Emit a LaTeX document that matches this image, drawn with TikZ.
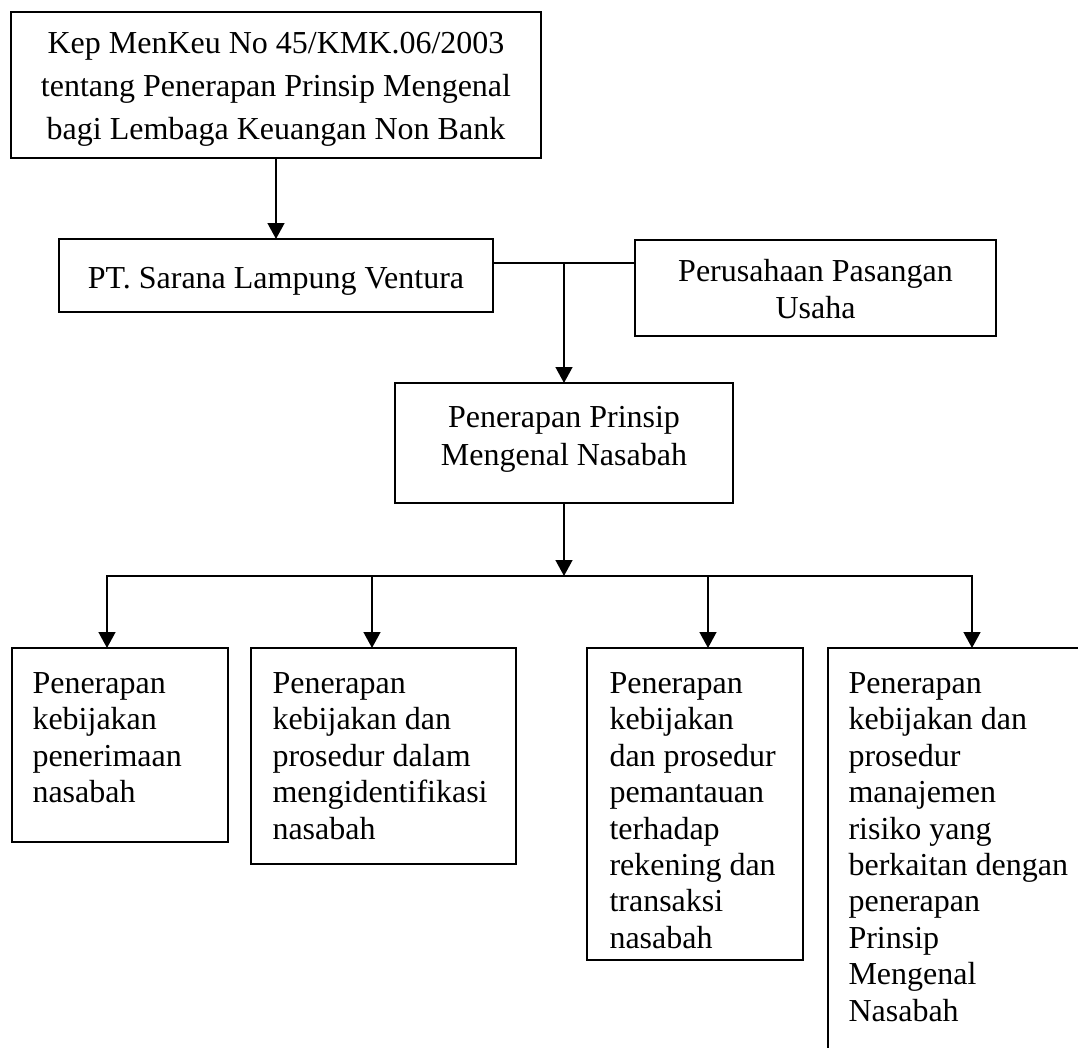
\documentclass[tikz,border=0pt]{standalone}
\usepackage{fontspec}
\setmainfont{Liberation Serif}
\usetikzlibrary{arrows.meta}
\begin{document}
\begin{tikzpicture}[x=0.375pt,y=-0.375pt,
  boxnode/.style={draw,line width=0.8pt,rectangle,inner sep=0pt,outer sep=0pt,anchor=north west},
  txt/.style={inner sep=0pt,font=\fontsize{12}{13.65}\selectfont},
  conn/.style={line width=0.8pt},
  arr/.style={conn,-{Triangle[length=6pt,width=6.3pt]}}]
\useasboundingbox (0,0) rectangle (1078,1047);
\begin{scope}
\clip (0,0) rectangle (1078,1047);
% boxes
\node[boxnode,minimum width=198.75pt,minimum height=54.75pt] (top) at (11,12) {};
\node[boxnode,minimum width=162.75pt,minimum height=27.375pt] (pt) at (59,239) {};
\node[boxnode,minimum width=135.375pt,minimum height=36pt] (per) at (635,240) {};
\node[boxnode,minimum width=126.75pt,minimum height=45pt] (ppn) at (395,383) {};
\node[boxnode,minimum width=81pt,minimum height=72.75pt] (b1) at (12,648) {};
\node[boxnode,minimum width=99.375pt,minimum height=81pt] (b2) at (251,648) {};
\node[boxnode,minimum width=81pt,minimum height=117pt] (b3) at (587,648) {};
\node[boxnode,minimum width=102pt,minimum height=162pt] (b4) at (828,648) {};
% texts
\node[txt,align=center,anchor=north,font=\fontsize{12}{16.1}\selectfont] (t0) at (276,31.5)
  {Kep MenKeu No 45/KMK.06/2003\\tentang Penerapan Prinsip Mengenal\\bagi Lembaga Keuangan Non Bank};
\node[txt,anchor=base] (t1) at (276,288) {PT. Sarana Lampung Ventura};
\node[txt,align=center,anchor=north] (t2) at (815.5,259) {Perusahaan Pasangan\\Usaha};
\node[txt,align=center,anchor=north,font=\fontsize{12}{14.2}\selectfont] (t3) at (564,406)
  {Penerapan Prinsip\\Mengenal Nasabah};
\node[txt,align=left,anchor=north west] (t4) at (32,672)
  {Penerapan\\kebijakan\\penerimaan\\nasabah};
\node[txt,align=left,anchor=north west] (t5) at (272,672)
  {Penerapan\\kebijakan dan\\prosedur dalam\\mengidentifikasi\\nasabah};
\node[txt,align=left,anchor=north west] (t6) at (609,672)
  {Penerapan\\kebijakan\\dan prosedur\\pemantauan\\terhadap\\rekening dan\\transaksi\\nasabah};
\node[txt,align=left,anchor=north west] (t7) at (848,672)
  {Penerapan\\kebijakan dan\\prosedur\\manajemen\\risiko yang\\berkaitan dengan\\penerapan\\Prinsip\\Mengenal\\Nasabah};
% connectors
\draw[arr] (top.south) -- (pt.north);
\coordinate (j1) at (564,263);
\draw[conn] (pt.east |- j1) -- (per.west |- j1);
\draw[arr] (j1) -- (j1 |- ppn.north);
\coordinate (j2) at (564,576);
\draw[arr] (ppn.south) -- (j2);
\coordinate (h1) at (107,576);
\coordinate (h2) at (372,576);
\coordinate (h3) at (708,576);
\coordinate (h4) at (972,576);
\draw[arr] (h2) -- (h1) -- (h1 |- b1.north);
\draw[arr] (h3) -- (h4) -- (h4 |- b4.north);
\draw[conn] (h2) -- (h3);
\draw[arr] (h2) -- (h2 |- b2.north);
\draw[arr] (h3) -- (h3 |- b3.north);
\end{scope}
\end{tikzpicture}
\end{document}
